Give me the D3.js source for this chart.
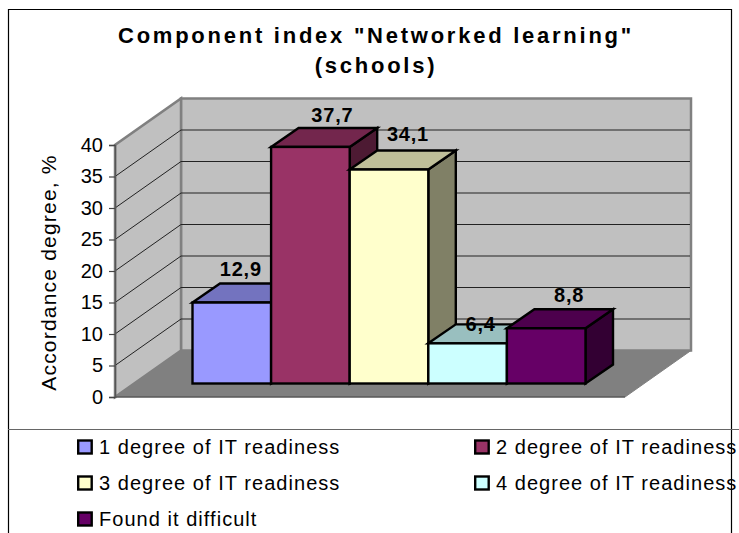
<!DOCTYPE html>
<html><head><meta charset="utf-8">
<script src="https://cdn.jsdelivr.net/npm/d3@7/dist/d3.min.js"></script>
<style>html,body{margin:0;padding:0;background:#fff;overflow:hidden}svg{display:block}text{font-family:"Liberation Sans",Arial,sans-serif;fill:#000}</style>
</head><body><svg id="c" width="739" height="533"></svg>
<script>
const categories = ["1 degree of IT readiness","2 degree of IT readiness","3 degree of IT readiness","4 degree of IT readiness","Found it difficult"];
const values = [12.9,37.7,34.1,6.4,8.8];
const valueLabels = ["12,9","37,7","34,1","6,4","8,8"];
const colors = ["#9999FF","#993366","#FFFFCC","#CCFFFF","#660066"];
const topColors = ["#7373BF","#73264D","#BFBF99","#99BFBF","#4D004D"];
const sideColors = ["#4D4D80","#4D1A33","#808066","#668080","#330033"];
const yTicks = [0,5,10,15,20,25,30,35,40];
const titleLines = ['Component index "Networked learning"','(schools)'];
const yTitle = "Accordance degree, %";

const svg = d3.select("#c");
const fr = svg.append("g").attr("fill","none").attr("stroke","#000");
fr.append("path").attr("d","M8.5,533V9.5H731.5V533").attr("stroke-width",1.2);
fr.append("line").attr("x1",8).attr("x2",739).attr("y1",429.5).attr("y2",429.5).attr("stroke","#666").attr("stroke-width",1);

// title
svg.append("g").selectAll("text").data(titleLines).join("text")
  .attr("x",376).attr("y",(d,i)=>42.5+i*30.5).attr("text-anchor","middle")
  .attr("font-size",22).attr("font-weight",700).attr("letter-spacing",2.75).text(d=>d);

// 3D geometry
const y = d3.scaleLinear().domain([0,40]).range([397,145]);
const wallDx=66, wallDy=-46.5, frontX=115, floorW=510;
svg.append("path").attr("fill","#C0C0C0").attr("stroke","#808080").attr("stroke-width",2.5)
  .attr("d",`M${frontX+wallDx},${y(0)+wallDy}V${y(40)+wallDy}H${frontX+wallDx+floorW}V${y(0)+wallDy}Z`);
svg.append("path").attr("fill","#C0C0C0").attr("stroke","#808080").attr("stroke-width",2.5)
  .attr("d",`M${frontX},${y(0)}V${y(40)}L${frontX+wallDx},${y(40)+wallDy}V${y(0)+wallDy}Z`);
svg.append("path").attr("fill","#808080").attr("stroke","#808080").attr("stroke-width",1)
  .attr("d",`M${frontX},${y(0)}L${frontX+wallDx},${y(0)+wallDy}H${frontX+wallDx+floorW}L${frontX+floorW},${y(0)}Z`);
const grid = svg.append("g").attr("stroke","#222").attr("stroke-width",1).attr("fill","none");
yTicks.filter(t=>t>0&&t<40).forEach(t=>{
  grid.append("path").attr("d",`M${frontX},${y(t)}l${wallDx},${wallDy}H${frontX+wallDx+floorW-1}`);
});
svg.append("line").attr("x1",frontX).attr("x2",frontX+floorW).attr("y1",y(0)).attr("y2",y(0)).attr("stroke","#444").attr("stroke-width",1);
const axis = svg.append("g").attr("transform",`translate(${frontX},0)`)
  .call(d3.axisLeft(y).tickValues(yTicks).tickSize(6).tickPadding(6).tickFormat(d3.format("d")));
axis.selectAll("text").attr("font-size",20).attr("font-family",'"Liberation Sans",Arial,sans-serif');
axis.selectAll("line").attr("stroke","#444").attr("stroke-width",1.2);
axis.select(".domain").attr("stroke","#555").attr("stroke-width",1.5);
svg.append("text").attr("transform","translate(56,272.5) rotate(-90)").attr("text-anchor","middle")
  .attr("font-size",21).attr("letter-spacing",1.2).text(yTitle);

// bars
const x = d3.scaleBand().domain(categories).range([192.5,585.5]);
const barY = d3.scaleLinear().domain([0,40]).range([383.5,132.5]);
const bDx=27.5, bDy=-19;
const bars = svg.append("g").attr("stroke","#000").attr("stroke-width",2.4).attr("stroke-linejoin","miter");
categories.forEach((c,i)=>{
  const x0=x(c), x1=x0+x.bandwidth(), y0=barY(0), yt=barY(values[i]);
  const g=bars.append("g");
  g.append("path").attr("fill",sideColors[i]).attr("d",`M${x1},${y0}V${yt}l${bDx},${bDy}V${y0+bDy}Z`);
  g.append("path").attr("fill",topColors[i]).attr("d",`M${x0},${yt}l${bDx},${bDy}H${x1+bDx}L${x1},${yt}Z`);
  g.append("rect").attr("fill",colors[i]).attr("x",x0).attr("y",yt).attr("width",x.bandwidth()).attr("height",y0-yt);
});
const labelDx=[9,22,19,13,23], labelDy=[-26.5,-24.5,-29,-12,-26];
svg.append("g").selectAll("text").data(categories).join("text")
  .attr("x",(c,i)=>x(c)+x.bandwidth()/2+labelDx[i])
  .attr("y",(c,i)=>barY(values[i])+labelDy[i])
  .attr("text-anchor","middle").attr("font-size",20).attr("font-weight",700).attr("letter-spacing",0.8)
  .text((c,i)=>valueLabels[i]);

// legend
const cols=[77,474], rows=[447,483,519];
const lg = svg.append("g").selectAll("g").data(categories).join("g")
  .attr("transform",(c,i)=>`translate(${cols[i%2]},${rows[Math.floor(i/2)]})`);
lg.append("rect").attr("x",1.2).attr("y",-6.5).attr("width",13.5).attr("height",13).attr("fill",(c,i)=>colors[i]).attr("stroke","#000").attr("stroke-width",2.4);
lg.append("text").attr("x",22).attr("y",7).attr("font-size",20).attr("letter-spacing",1.04).text(c=>c);
</script></body></html>
